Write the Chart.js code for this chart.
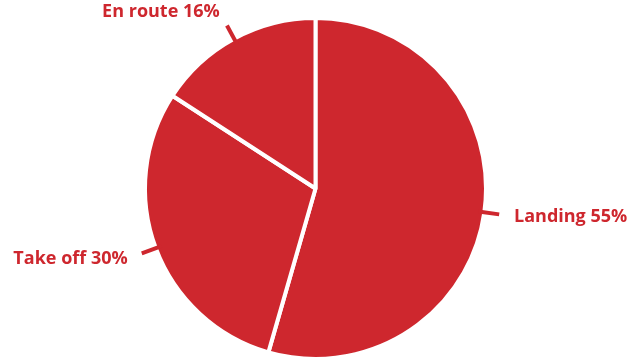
<!DOCTYPE html>
<html>
<head>
<meta charset="utf-8">
<script src="https://cdn.jsdelivr.net/npm/chart.js@4"></script>
<style>
  html, body { margin: 0; padding: 0; background: #fff; }
  #wrap { width: 629px; height: 361px; }
</style>
</head>
<body>
<div id="wrap"><canvas id="pieChart"></canvas></div>
<script>
const categories = ['Landing', 'Take off', 'En route'];
const shares = [55, 30, 16];

const red = '#CE272E';

// etiquetas fuera del pastel con una pequeña marca radial
const outsideLabels = {
  id: 'outsideLabels',
  afterDatasetsDraw(chart) {
    const ctx = chart.ctx;
    const meta = chart.getDatasetMeta(0);
    ctx.save();
    ctx.font = 'bold 18px "Open Sans", sans-serif';
    ctx.fillStyle = red;
    ctx.strokeStyle = red;
    ctx.lineWidth = 4;
    meta.data.forEach((arc, i) => {
      const p = arc.getProps(['x', 'y', 'startAngle', 'endAngle', 'outerRadius'], true);
      const mid = (p.startAngle + p.endAngle) / 2;
      const cos = Math.cos(mid), sin = Math.sin(mid);
      const r0 = p.outerRadius - 6, r1 = p.outerRadius + 15;
      ctx.beginPath();
      ctx.moveTo(p.x + cos * r0, p.y + sin * r0);
      ctx.lineTo(p.x + cos * r1, p.y + sin * r1);
      ctx.stroke();

      const rl = p.outerRadius + 30;
      const lx = p.x + cos * rl;
      const ly = p.y + sin * rl;
      ctx.textAlign = cos >= 0 ? 'left' : 'right';
      ctx.textBaseline = 'middle';
      ctx.fillText(categories[i] + ' ' + shares[i] + '%', lx, ly);
    });
    ctx.restore();
  }
};

new Chart(document.getElementById('pieChart'), {
  type: 'pie',
  data: {
    labels: categories,
    datasets: [{
      data: shares,
      backgroundColor: red,
      borderColor: '#ffffff',
      borderWidth: 4
    }]
  },
  options: {
    responsive: true,
    maintainAspectRatio: false,
    animation: false,
    layout: { padding: { top: 16, bottom: -3, left: 2, right: 0 } },
    plugins: {
      legend: { display: false },
      tooltip: { enabled: false }
    }
  },
  plugins: [outsideLabels]
});
</script>
</body>
</html>
